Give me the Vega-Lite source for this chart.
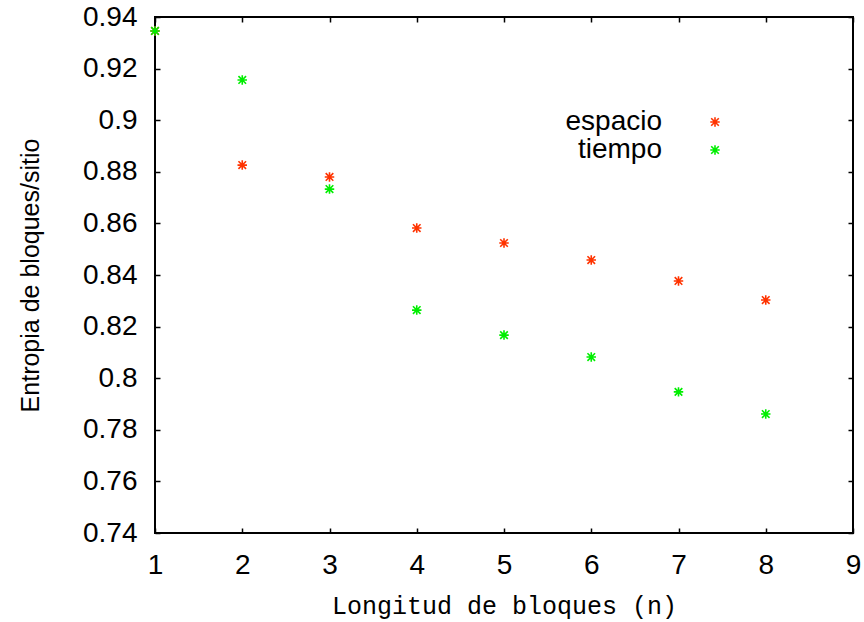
{
  "$schema": "https://vega.github.io/schema/vega-lite/v6.json",
  "width": 698,
  "height": 516,
  "autosize": {"type": "none"},
  "padding": {"left": 155, "top": 17, "right": 11, "bottom": 89},
  "background": "white",
  "config": {
    "view": {"stroke": "black", "strokeWidth": 2},
    "axis": {
      "grid": false,
      "domain": false,
      "labelFont": "Liberation Sans",
      "labelFontSize": 28,
      "labelColor": "black",
      "labelFlush": false,
      "labelOverlap": false,
      "tickColor": "black",
      "tickSize": -5,
      "tickWidth": 1.5,
      "titleColor": "black",
      "titleFontWeight": "normal"
    }
  },
  "data": {
    "values": [
      {"n": 1, "serie": "espacio", "h": 0.9346},
      {"n": 2, "serie": "espacio", "h": 0.8826},
      {"n": 3, "serie": "espacio", "h": 0.8780},
      {"n": 4, "serie": "espacio", "h": 0.8582},
      {"n": 5, "serie": "espacio", "h": 0.8524},
      {"n": 6, "serie": "espacio", "h": 0.8458},
      {"n": 7, "serie": "espacio", "h": 0.8377},
      {"n": 8, "serie": "espacio", "h": 0.8303},
      {"n": 1, "serie": "tiempo", "h": 0.9346},
      {"n": 2, "serie": "tiempo", "h": 0.9156},
      {"n": 3, "serie": "tiempo", "h": 0.8733},
      {"n": 4, "serie": "tiempo", "h": 0.8264},
      {"n": 5, "serie": "tiempo", "h": 0.8167},
      {"n": 6, "serie": "tiempo", "h": 0.8082},
      {"n": 7, "serie": "tiempo", "h": 0.7947},
      {"n": 8, "serie": "tiempo", "h": 0.7861}
    ]
  },
  "layer": [
    {
      "mark": {
        "type": "point",
        "shape": "M-1,0L1,0M0,-1L0,1M-0.8,-0.8L0.8,0.8M-0.8,0.8L0.8,-0.8",
        "filled": false,
        "size": 90,
        "strokeWidth": 1.6,
        "opacity": 1
      },
      "encoding": {
        "x": {
          "field": "n",
          "type": "quantitative",
          "scale": {"domain": [1, 9], "nice": false, "zero": false},
          "axis": {
            "orient": "bottom",
            "values": [1, 2, 3, 4, 5, 6, 7, 8, 9],
            "format": "d",
            "labelPadding": 23,
            "title": "Longitud de bloques (n)",
            "titleFont": "Liberation Mono",
            "titleFontSize": 25,
            "titleX": 349,
            "titleY": 80,
            "titleAlign": "center",
            "titleBaseline": "alphabetic"
          }
        },
        "y": {
          "field": "h",
          "type": "quantitative",
          "scale": {"domain": [0.74, 0.94], "nice": false, "zero": false},
          "axis": {
            "orient": "left",
            "values": [0.74, 0.76, 0.78, 0.8, 0.82, 0.84, 0.86, 0.88, 0.9, 0.92, 0.94],
            "format": ".2~f",
            "labelPadding": 23,
            "title": "Entropia de bloques/sitio",
            "titleFont": "Liberation Sans",
            "titleFontSize": 25,
            "titleAngle": -90,
            "titleX": -117,
            "titleY": 258,
            "titleAlign": "center",
            "titleBaseline": "alphabetic"
          }
        },
        "color": {
          "field": "serie",
          "type": "nominal",
          "scale": {"domain": ["espacio", "tiempo"], "range": ["#ff3300", "#00ee00"]},
          "legend": {
            "title": null,
            "orient": "none",
            "legendX": 546,
            "legendY": 91,
            "padding": 0,
            "symbolType": "M-1,0L1,0M0,-1L0,1M-0.8,-0.8L0.8,0.8M-0.8,0.8L0.8,-0.8",
            "symbolSize": 90,
            "symbolStrokeWidth": 1.6,
            "symbolFillColor": "transparent",
            "labelFont": "Liberation Sans",
            "labelFontSize": 28,
            "labelColor": "black",
            "labelAlign": "right",
            "labelOffset": -67,
            "rowPadding": 0
          }
        }
      }
    },
    {
      "mark": {"type": "point", "opacity": 0},
      "encoding": {
        "x": {
          "field": "n",
          "type": "quantitative",
          "scale": {"domain": [1, 9], "nice": false, "zero": false},
          "axis": {"orient": "top", "values": [1, 2, 3, 4, 5, 6, 7, 8, 9], "labels": false, "title": null}
        },
        "y": {
          "field": "h",
          "type": "quantitative",
          "scale": {"domain": [0.74, 0.94], "nice": false, "zero": false},
          "axis": {"orient": "right", "values": [0.74, 0.76, 0.78, 0.8, 0.82, 0.84, 0.86, 0.88, 0.9, 0.92, 0.94], "labels": false, "title": null}
        }
      }
    }
  ],
  "resolve": {"scale": {"x": "independent", "y": "independent"}}
}
